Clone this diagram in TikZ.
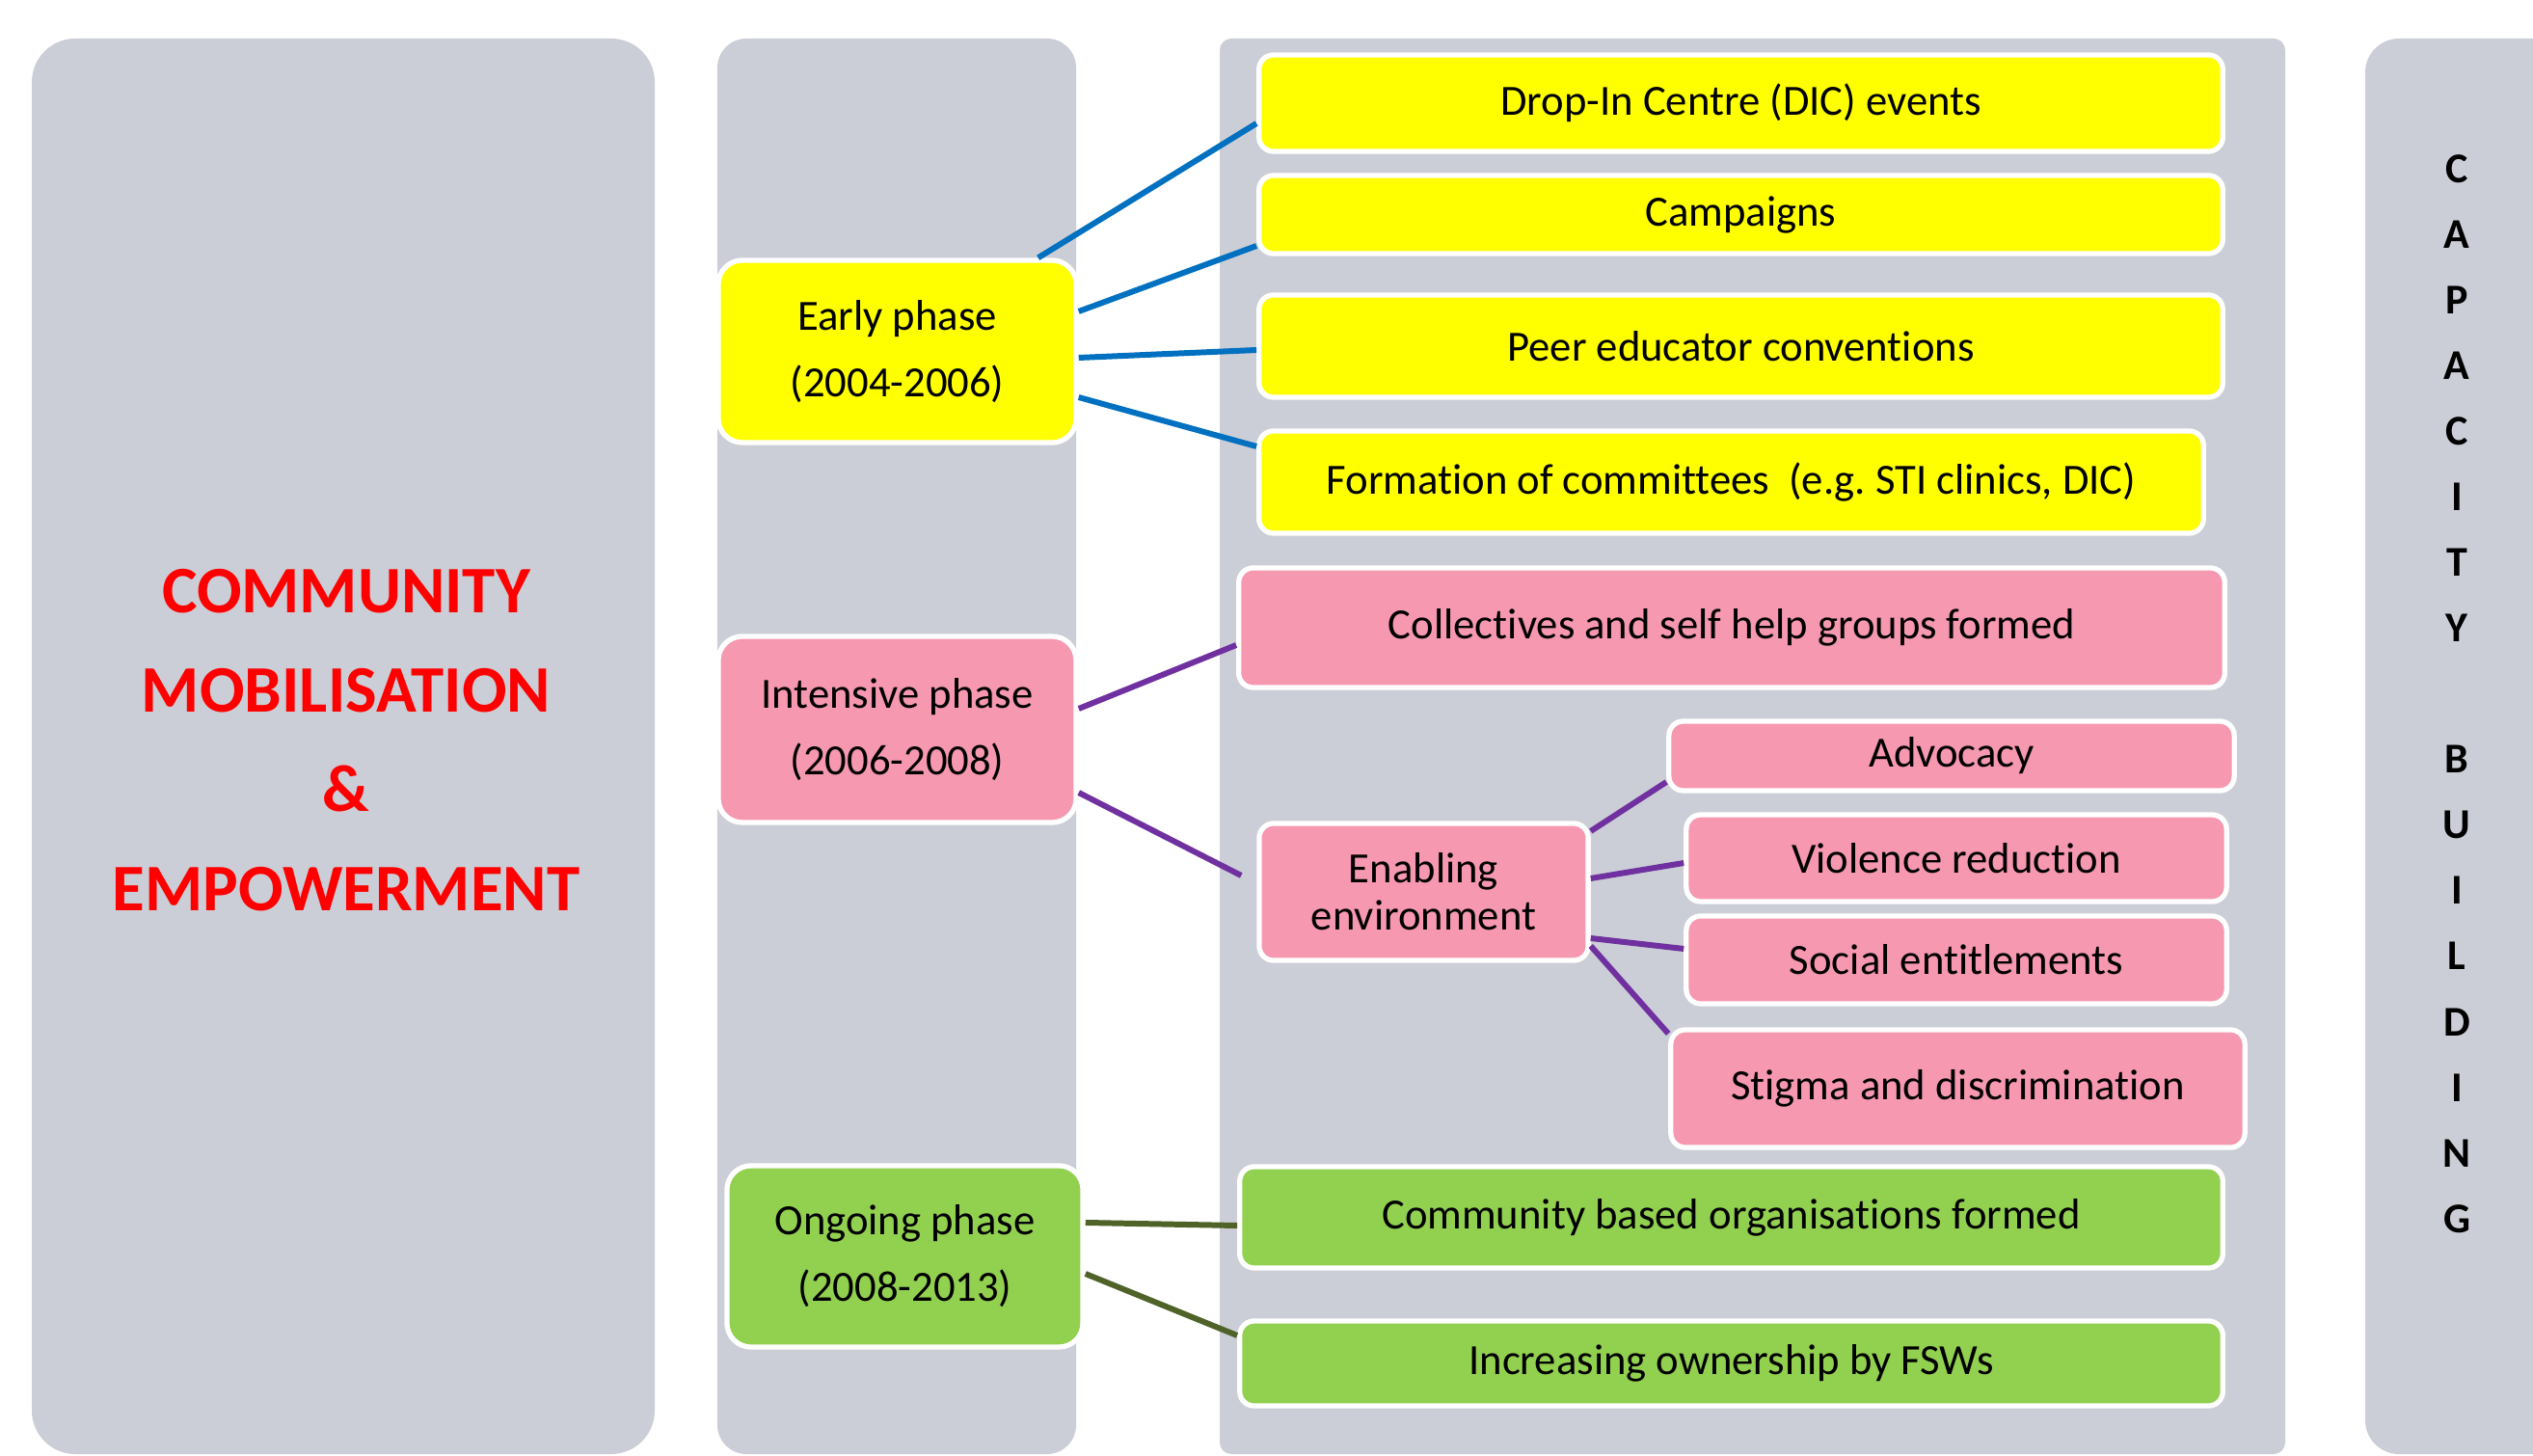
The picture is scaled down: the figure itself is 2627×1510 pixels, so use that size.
\documentclass[tikz,border=0pt]{standalone}
\usepackage{fontspec}
\setmainfont{Carlito}[Ligatures=NoCommon]
\usepackage{tikz}
\definecolor{panelgray}{RGB}{203,206,214}
\definecolor{boxyellow}{RGB}{255,255,0}
\definecolor{boxpink}{RGB}{245,152,176}
\definecolor{boxgreen}{RGB}{146,208,80}
\definecolor{lineblue}{RGB}{0,112,192}
\definecolor{linepurple}{RGB}{112,48,160}
\definecolor{linegreen}{RGB}{79,98,40}
\tikzstyle{panel} = [fill=panelgray, draw=none]
\tikzstyle{phase} = [rectangle, rounded corners=0.25cm, draw=white, line width=1.5pt, align=center, inner sep=0pt, font=\fontsize{12.7}{19.6}\selectfont]
\tikzstyle{item} = [rectangle, rounded corners=0.15cm, draw=white, line width=1.5pt, align=center, inner sep=0pt, font=\fontsize{12.7}{14}\selectfont]
\tikzstyle{link} = [line width=1.7pt]

\begin{document}
\begin{tikzpicture}[x=0.01cm, y=-0.01cm]
		\useasboundingbox (0,0) rectangle (2627,1510);
		\clip (0,0) rectangle (2627,1510);
		%背景面板
		\fill [panel, rounded corners=0.45cm] (33,40) rectangle (679,1508);
		\fill [panel, rounded corners=0.3cm] (744,40) rectangle (1116,1508);
		\fill [panel, rounded corners=0.12cm] (1265,40) rectangle (2370,1508);
		\fill [panel, rounded corners=0.35cm] (2453,40) rectangle (2720,1508);
		
		%左右两侧文字
		\node (cme) [align=center, text=red, font=\fontsize{19.6}{29.3}\selectfont\bfseries] at (359,768) {COMMUNITY\\MOBILISATION\\\&\\EMPOWERMENT};
		\node (cap) [align=center, font=\fontsize{12.5}{19.35}\selectfont\bfseries] at (2548,719.5) {C\\A\\P\\A\\C\\I\\T\\Y\\[19.35pt]B\\U\\I\\L\\D\\I\\N\\G};
		
		%阶段
		\node (early) [phase, fill=boxyellow, minimum width=3.71cm, minimum height=1.89cm] at (930.5,364.5) {Early phase\\(2004-2006)};
		\node (intens) [phase, fill=boxpink, minimum width=3.71cm, minimum height=1.93cm] at (930.5,756.5) {Intensive phase\\(2006-2008)};
		\node (ongo) [phase, fill=boxgreen, minimum width=3.69cm, minimum height=1.88cm] at (938.5,1303) {Ongoing phase\\(2008-2013)};
		
		%具体内容
		\node (drop) [item, fill=boxyellow, minimum width=9.99cm, minimum height=1cm] at (1805.5,107) {Drop-In Centre (DIC) events};
		\node (camp) [item, fill=boxyellow, minimum width=9.99cm, minimum height=0.81cm] at (1805.5,222.5) {Campaigns};
		\node (peer) [item, fill=boxyellow, minimum width=9.99cm, minimum height=1.06cm] at (1805.5,359) {Peer educator conventions};
		\node (form) [item, fill=boxyellow, minimum width=9.79cm, minimum height=1.06cm] at (1795.5,500) {Formation of committees\ \ (e.g.\ STI clinics, DIC)};
		\node (coll) [item, fill=boxpink, minimum width=10.22cm, minimum height=1.24cm] at (1796,651) {Collectives and self help groups formed};
		\node (enab) [item, fill=boxpink, minimum width=3.41cm, minimum height=1.42cm] at (1476.5,925) {Enabling\\environment};
		\node (advo) [item, fill=boxpink, minimum width=5.86cm, minimum height=0.72cm] at (2024,784) {Advocacy};
		\node (viol) [item, fill=boxpink, minimum width=5.6cm, minimum height=0.9cm] at (2029,890) {Violence reduction};
		\node (soc) [item, fill=boxpink, minimum width=5.6cm, minimum height=0.91cm] at (2029,995.5) {Social entitlements};
		\node (stig) [item, fill=boxpink, minimum width=5.95cm, minimum height=1.22cm] at (2030.5,1129) {Stigma and discrimination};
		\node (cbo) [item, fill=boxgreen, minimum width=10.19cm, minimum height=1.05cm] at (1795.5,1262.5) {Community based organisations formed};
		\node (fsw) [item, fill=boxgreen, minimum width=10.19cm, minimum height=0.88cm] at (1795.5,1414) {Increasing ownership by FSWs};
		
		%连接
		\draw [link, lineblue] ([xshift=-0.42cm]early.north east) -- ([yshift=-0.21cm]drop.west);
		\draw [link, lineblue] ([yshift=0.415cm]early.east) -- ([yshift=-0.325cm]camp.west);
		\draw [link, lineblue] ([yshift=-0.065cm]early.east) -- ([yshift=-0.04cm]peer.west);
		\draw [link, lineblue] ([yshift=-0.475cm]early.east) -- ([yshift=0.37cm]form.west);
		\draw [link, linepurple] ([yshift=0.215cm]intens.east) -- ([yshift=-0.18cm]coll.west);
		\draw [link, linepurple] ([yshift=-0.655cm]intens.east) -- ([xshift=-0.16cm, yshift=0.17cm]enab.west);
		\draw [link, linepurple] ([yshift=0.63cm]enab.east) -- ([yshift=-0.27cm]advo.west);
		\draw [link, linepurple] ([yshift=0.14cm]enab.east) -- ([yshift=-0.05cm]viol.west);
		\draw [link, linepurple] ([yshift=-0.48cm]enab.east) -- ([yshift=0.115cm]soc.west);
		\draw [link, linepurple] ([yshift=-0.56cm]enab.east) -- ([yshift=0.57cm]stig.west);
		\draw [link, linegreen] ([yshift=0.35cm]ongo.east) -- ([yshift=-0.085cm]cbo.west);
		\draw [link, linegreen] ([yshift=-0.18cm]ongo.east) -- ([yshift=0.29cm]fsw.west);
\end{tikzpicture}
\end{document}
